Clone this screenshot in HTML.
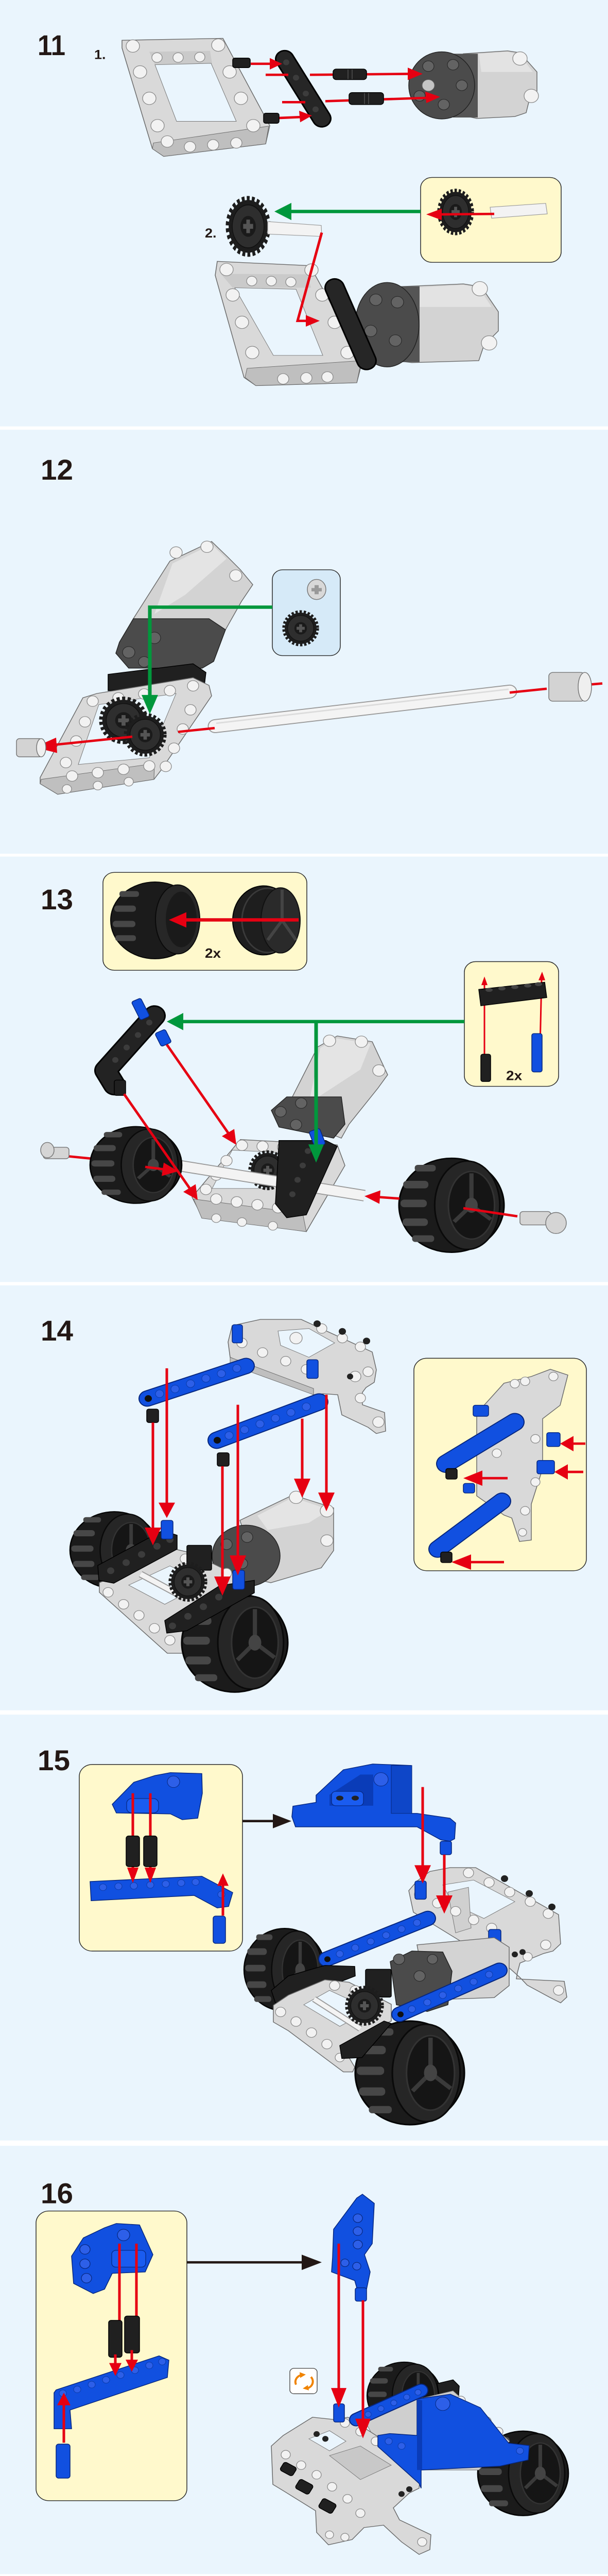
<!DOCTYPE html>
<html><head><meta charset="utf-8"><style>
html,body{margin:0;padding:0;background:#eaf5fd;width:100%;height:100%;overflow:hidden;}
svg{display:block;width:100vw;height:100vh;}
text{font-family:"Liberation Sans",sans-serif;font-weight:bold;fill:#231815;}
.gy{fill:#d9d9d9;stroke:#6a6a6a;stroke-width:1.5}
.gyd{fill:#bfbfbf;stroke:#6a6a6a;stroke-width:1}
.hl{fill:#f2f2f2;stroke:#8a8a8a;stroke-width:1.3}
.bk{fill:#202020;stroke:#000;stroke-width:1.5}
.bl{fill:#1150e0;stroke:#06267c;stroke-width:1.5}
.rd{stroke:#e60012;stroke-width:5;fill:none}
.rdt{stroke:#e60012;stroke-width:3;fill:none}
.rf{fill:#e60012}
.gn{stroke:#00973c;stroke-width:7;fill:none}
.gf{fill:#00973c}
.yb{fill:#fff9cc;stroke:#2b2b2b;stroke-width:1.5}
.mt{fill:#d3d3d3;stroke:#6a6a6a;stroke-width:1.5}
.mtd{fill:#4b4b4b;stroke:#222;stroke-width:1.5}
.bg{fill:#eaf5fd}
.ax{fill:#f3f3f3;stroke:#9a9a9a;stroke-width:1.2}
</style></head><body><svg viewBox="0 0 1181 5371" preserveAspectRatio="none" xmlns="http://www.w3.org/2000/svg">
<defs>
 <g id="wheel">
  <ellipse rx="100" ry="100" fill="#1b1b1b" stroke="#050505" stroke-width="3"/>
  <g fill="#474747">
   <rect x="-70" y="-86" width="40" height="14" rx="6"/>
   <rect x="-92" y="-52" width="48" height="16" rx="7"/>
   <rect x="-97" y="-12" width="50" height="16" rx="7"/>
   <rect x="-93" y="28" width="48" height="16" rx="7"/>
   <rect x="-75" y="64" width="42" height="14" rx="6"/>
  </g>
  <ellipse cx="30" rx="62" ry="94" fill="#262626" stroke="#0a0a0a" stroke-width="3"/>
  <ellipse cx="38" rx="44" ry="72" fill="#151515" stroke="#333" stroke-width="3"/>
  <g stroke="#3a3a3a" stroke-width="8"><line x1="38" y1="0" x2="38" y2="-68"/><line x1="38" y1="0" x2="75" y2="30"/><line x1="38" y1="0" x2="5" y2="35"/></g>
  <ellipse cx="38" rx="12" ry="16" fill="#444"/>
 </g>
 <g id="gear">
  <ellipse rx="86" ry="86" fill="#1d1d1d" stroke="#1d1d1d" stroke-width="26" stroke-dasharray="12 9"/>
  <ellipse rx="70" ry="70" fill="#2e2e2e" stroke="#111" stroke-width="3"/>
  <ellipse rx="34" ry="34" fill="#1a1a1a"/>
  <path d="M-8,-22 h16 v14 h14 v16 h-14 v14 h-16 v-14 h-14 v-16 h14z" fill="#555"/>
 </g>
</defs>
<rect width="1181" height="5371" fill="#fff"/>
<g class="bg">
 <rect x="0" y="0" width="1181" height="889"/>
 <rect x="0" y="896" width="1181" height="884"/>
 <rect x="0" y="1786" width="1181" height="887"/>
 <rect x="0" y="2680" width="1181" height="886"/>
 <rect x="0" y="3575" width="1181" height="888"/>
 <rect x="0" y="4474" width="1181" height="893"/>
</g>

<!-- ================= STEP 11 ================= -->
<text x="73" y="115" font-size="60" textLength="54" lengthAdjust="spacingAndGlyphs">11</text>
<text x="183" y="123" font-size="27">1.</text>
<polygon class="gy" points="237,84 433,80 524,262 516,300 318,326 296,310 237,100"/>
<polygon class="gyd" points="298,298 522,263 516,300 318,326 296,310"/>
<polygon fill="#cacaca" points="290,108 408,106 412,133 301,135"/>
<polygon class="bg" stroke="#777" stroke-width="1" points="301,135 410,132 459,253 343,253"/>
<g class="hl">
 <circle cx="258" cy="96" r="13"/><circle cx="272" cy="150" r="13"/><circle cx="290" cy="205" r="13"/><circle cx="306" cy="262" r="13"/>
 <circle cx="424" cy="94" r="13"/><circle cx="446" cy="150" r="13"/><circle cx="468" cy="205" r="13"/><circle cx="492" cy="262" r="13"/>
 <circle cx="305" cy="120" r="10"/><circle cx="346" cy="120" r="10"/><circle cx="388" cy="119" r="10"/>
 <circle cx="369" cy="306" r="11"/><circle cx="414" cy="302" r="11"/><circle cx="459" cy="298" r="11"/>
 <circle cx="325" cy="295" r="12"/>
</g>
<line x1="553" y1="123" x2="625" y2="247" stroke="#000" stroke-width="38" stroke-linecap="round"/>
<line x1="553" y1="123" x2="625" y2="247" stroke="#262626" stroke-width="32" stroke-linecap="round"/>
<g fill="#3c3c3c"><circle cx="556" cy="130" r="6"/><circle cx="575" cy="162" r="6"/><circle cx="594" cy="195" r="6"/><circle cx="613" cy="228" r="6"/></g>
<polygon class="mt" points="900,112 986,106 1010,110 1043,150 1043,190 1030,200 1022,235 1000,243 926,247 900,241"/>
<polygon fill="#e3e3e3" points="930,112 986,108 1010,115 1035,150 935,150"/>
<rect x="880" y="112" width="48" height="133" fill="#555"/>
<ellipse class="mtd" cx="858" cy="178" rx="64" ry="70"/>
<g fill="#636363" stroke="#2a2a2a" stroke-width="1.2">
 <circle cx="832" cy="138" r="11"/><circle cx="880" cy="135" r="11"/><circle cx="815" cy="200" r="11"/><circle cx="862" cy="218" r="11"/><circle cx="897" cy="178" r="11"/>
</g>
<circle cx="832" cy="178" r="12" fill="#c4c4c4" stroke="#666"/>
<g class="hl"><circle cx="1010" cy="122" r="14"/><circle cx="1032" cy="200" r="14"/></g>
<g class="rd">
 <line x1="487" y1="133" x2="526" y2="133"/>
 <line x1="516" y1="156" x2="560" y2="156"/>
 <line x1="602" y1="156" x2="795" y2="154"/>
 <line x1="548" y1="213" x2="593" y2="213"/>
 <line x1="632" y1="211" x2="830" y2="204"/>
 <line x1="542" y1="246" x2="584" y2="244"/>
</g>
<rect class="bk" x="452" y="121" width="34" height="20" rx="4"/>
<rect class="bk" x="512" y="236" width="30" height="21" rx="4"/>
<rect class="bk" x="647" y="144" width="65" height="22" rx="6"/>
<rect class="bk" x="678" y="193" width="67" height="25" rx="6"/>
<g stroke="#444" stroke-width="2"><line x1="676" y1="145" x2="676" y2="165"/><line x1="684" y1="145" x2="684" y2="165"/><line x1="708" y1="194" x2="708" y2="217"/><line x1="716" y1="194" x2="716" y2="217"/></g>
<g class="rf">
 <polygon points="524,121 548,133 524,145"/>
 <polygon points="792,141 821,154 792,167"/>
 <polygon points="826,191 855,202 828,215"/>
 <polygon points="581,231 606,241 583,255"/>
</g>
<polygon class="gy" points="422,545 602,554 704,752 693,798 497,804 474,787 418,574"/>
<polygon class="gyd" points="480,768 702,752 693,798 497,804 476,787"/>
<polygon fill="#cacaca" points="429,571 597,572 604,600 452,600"/>
<polygon class="bg" stroke="#777" stroke-width="1" points="456,600 575,603 627,741 531,741"/>
<g class="hl">
 <circle cx="440" cy="562" r="13"/><circle cx="452" cy="615" r="13"/><circle cx="470" cy="672" r="13"/><circle cx="490" cy="735" r="13"/>
 <circle cx="605" cy="563" r="13"/><circle cx="626" cy="615" r="13"/><circle cx="650" cy="672" r="13"/><circle cx="675" cy="735" r="13"/>
 <circle cx="489" cy="586" r="10"/><circle cx="527" cy="586" r="10"/><circle cx="565" cy="588" r="10"/>
 <circle cx="550" cy="790" r="11"/><circle cx="595" cy="788" r="11"/><circle cx="636" cy="786" r="11"/>
</g>
<polygon class="mt" points="768,598 900,592 935,598 968,650 968,690 940,720 930,752 800,756 768,752"/>
<polygon fill="#e3e3e3" points="800,600 900,594 930,600 955,640 800,640"/>
<rect x="760" y="597" width="55" height="158" fill="#555"/>
<ellipse class="mtd" cx="752" cy="677" rx="62" ry="88"/>
<g fill="#636363" stroke="#2a2a2a" stroke-width="1.2"><circle cx="730" cy="625" r="12"/><circle cx="772" cy="630" r="12"/><circle cx="720" cy="690" r="12"/><circle cx="768" cy="710" r="12"/></g>
<g class="hl"><circle cx="932" cy="602" r="15"/><circle cx="950" cy="715" r="15"/></g>
<line x1="650" y1="600" x2="712" y2="752" stroke="#000" stroke-width="40" stroke-linecap="round"/>
<line x1="650" y1="600" x2="712" y2="752" stroke="#262626" stroke-width="34" stroke-linecap="round"/>
<use href="#gear" transform="translate(482,472) scale(0.44,0.64)"/>
<polygon class="ax" points="520,462 624,470 625,493 520,488"/>
<text x="398" y="495" font-size="27">2.</text>
<polyline class="rd" points="625,485 578,669 596,669"/>
<polygon class="rf" points="594,657 621,669 594,681"/>
<rect class="yb" x="817" y="370" width="273" height="177" rx="22"/>
<polygon class="ax" points="952,432 1060,424 1063,446 955,455"/>
<use href="#gear" transform="translate(885,442) scale(0.36,0.49)"/>
<line class="rd" x1="960" y1="446" x2="856" y2="447"/>
<polygon class="rf" points="858,435 828,447 858,459"/>
<line class="gn" x1="817" y1="441" x2="562" y2="441" stroke-width="8"/>
<polygon class="gf" points="566,423 533,441 566,459"/>

<!-- ================= STEP 12 ================= -->
<text x="79" y="1000" font-size="60" textLength="63" lengthAdjust="spacingAndGlyphs">12</text>
<polygon class="mt" points="330,1170 411,1129 442,1161 467,1188 491,1219 469,1254 438,1313 406,1313 259,1290"/>
<polygon fill="#e4e4e4" points="335,1175 411,1135 440,1165 360,1240 300,1280"/>
<g class="hl"><circle cx="342" cy="1152" r="12"/><circle cx="402" cy="1140" r="12"/><circle cx="458" cy="1200" r="12"/></g>
<polygon class="mtd" points="259,1290 406,1290 438,1313 415,1379 393,1393 250,1393 225,1362 232,1339"/>
<g fill="#636363" stroke="#2a2a2a" stroke-width="1.2"><circle cx="250" cy="1360" r="12"/><circle cx="300" cy="1330" r="12"/><circle cx="280" cy="1380" r="11"/></g>
<polygon class="bk" points="210,1406 375,1384 400,1402 397,1429 210,1440"/>
<polygon class="gy" points="78,1621 161,1455 188,1446 375,1413 406,1429 411,1451 312,1607 299,1625 112,1656 78,1634"/>
<polygon class="gyd" points="80,1625 300,1592 299,1625 112,1656 78,1634"/>
<polygon class="bg" stroke="#777" stroke-width="1" points="192,1469 342,1446 290,1580 152,1594"/>
<g class="hl">
 <circle cx="180" cy="1462" r="11"/><circle cx="230" cy="1455" r="11"/><circle cx="280" cy="1447" r="11"/><circle cx="330" cy="1440" r="11"/><circle cx="375" cy="1430" r="11"/>
 <circle cx="165" cy="1505" r="11"/><circle cx="148" cy="1545" r="11"/><circle cx="128" cy="1590" r="11"/>
 <circle cx="370" cy="1480" r="11"/><circle cx="355" cy="1520" r="11"/><circle cx="338" cy="1560" r="11"/><circle cx="322" cy="1598" r="11"/>
 <circle cx="140" cy="1618" r="11"/><circle cx="190" cy="1611" r="11"/><circle cx="240" cy="1604" r="11"/><circle cx="290" cy="1597" r="11"/>
 <circle cx="130" cy="1645" r="9"/><circle cx="190" cy="1638" r="9"/><circle cx="250" cy="1630" r="9"/>
</g>
<use href="#gear" transform="translate(240,1502) scale(0.48,0.5)"/>
<use href="#gear" transform="translate(282,1532) scale(0.42,0.46)"/>
<line x1="418" y1="1514" x2="990" y2="1442" stroke="#9a9a9a" stroke-width="29" stroke-linecap="round"/>
<line x1="418" y1="1514" x2="990" y2="1442" stroke="#f4f4f4" stroke-width="25" stroke-linecap="round"/>
<line x1="420" y1="1508" x2="988" y2="1437" stroke="#dcdcdc" stroke-width="3"/>
<g class="rd">
 <line x1="990" y1="1444" x2="1062" y2="1436"/>
 <line x1="1148" y1="1427" x2="1170" y2="1425"/>
 <line x1="417" y1="1518" x2="346" y2="1526"/>
 <line x1="257" y1="1536" x2="105" y2="1553"/>
</g>
<polygon class="rf" points="109,1538 67,1558 111,1570"/>
<rect x="1066" y="1402" width="70" height="60" rx="8" fill="#d3d3d3" stroke="#777" stroke-width="1.5"/>
<ellipse cx="1136" cy="1432" rx="13" ry="30" fill="#efefef" stroke="#777" stroke-width="1.5"/>
<rect x="32" y="1540" width="50" height="38" rx="6" fill="#d3d3d3" stroke="#777" stroke-width="1.5"/>
<ellipse cx="80" cy="1559" rx="9" ry="19" fill="#efefef" stroke="#777" stroke-width="1.5"/>
<rect x="529" y="1188" width="132" height="179" rx="20" fill="#d6eaf8" stroke="#2b2b2b" stroke-width="1.5"/>
<ellipse cx="615" cy="1229" rx="18" ry="21" fill="#d8d8d8" stroke="#777" stroke-width="1.5"/>
<path d="M611,1220 h8 v6 h6 v7 h-6 v6 h-8 v-6 h-6 v-7 h6z" fill="#999"/>
<use href="#gear" transform="translate(584,1310) scale(0.36,0.38)"/>
<polyline class="gn" points="529,1266 291,1266 291,1455" stroke-width="6"/>
<polygon class="gf" points="275,1449 291,1489 307,1449"/>

<!-- ================= STEP 13 ================= -->
<text x="79" y="1896" font-size="60" textLength="63" lengthAdjust="spacingAndGlyphs">13</text>
<rect class="yb" x="200" y="1819" width="396" height="204" rx="22"/>
<ellipse cx="301" cy="1919" rx="86" ry="80" fill="#1b1b1b" stroke="#050505" stroke-width="2"/>
<g fill="#474747">
 <rect x="232" y="1858" width="38" height="12" rx="5"/><rect x="222" y="1888" width="42" height="13" rx="6"/>
 <rect x="219" y="1920" width="44" height="13" rx="6"/><rect x="224" y="1950" width="40" height="12" rx="5"/>
</g>
<ellipse cx="345" cy="1917" rx="43" ry="72" fill="#272727" stroke="#0a0a0a" stroke-width="2"/>
<ellipse cx="352" cy="1917" rx="30" ry="58" fill="#1a1a1a"/>
<ellipse cx="512" cy="1919" rx="60" ry="72" fill="#1e1e1e" stroke="#000" stroke-width="2"/>
<ellipse cx="520" cy="1919" rx="50" ry="67" fill="none" stroke="#3a3a3a" stroke-width="3"/>
<ellipse cx="545" cy="1919" rx="38" ry="68" fill="#2a2a2a" stroke="#111" stroke-width="2"/>
<g stroke="#444" stroke-width="6"><line x1="548" y1="1919" x2="548" y2="1855"/><line x1="548" y1="1919" x2="575" y2="1960"/><line x1="548" y1="1919" x2="520" y2="1960"/></g>
<line x1="580" y1="1918" x2="360" y2="1918" stroke="#e60012" stroke-width="7"/>
<polygon class="rf" points="362,1902 328,1918 362,1934"/>
<text x="398" y="1997" font-size="28">2x</text>
<rect class="yb" x="902" y="2005" width="183" height="260" rx="22"/>
<line class="rdt" x1="941" y1="2252" x2="941" y2="2052"/>
<line class="rdt" x1="1048" y1="2229" x2="1052" y2="2042"/>
<polygon class="bk" points="930,2063 1058,2048 1062,2080 934,2097"/>
<g fill="#444"><ellipse cx="950" cy="2064" rx="7" ry="4"/><ellipse cx="975" cy="2061" rx="7" ry="4"/><ellipse cx="1000" cy="2058" rx="7" ry="4"/><ellipse cx="1025" cy="2055" rx="7" ry="4"/><ellipse cx="1046" cy="2052" rx="7" ry="4"/></g>
<polygon class="rf" points="935,2054 941,2036 947,2054"/>
<polygon class="rf" points="1046,2044 1053,2026 1059,2044"/>
<rect class="bk" x="934" y="2198" width="19" height="57" rx="4"/>
<rect class="bl" x="1033" y="2155" width="20" height="80" rx="4"/>
<text x="983" y="2252" font-size="28">2x</text>
<polygon class="mt" points="617,2183 655,2160 723,2172 753,2241 734,2269 678,2344 663,2373 595,2344 557,2310"/>
<polygon fill="#e4e4e4" points="622,2185 655,2165 720,2176 700,2230 600,2300"/>
<g class="hl"><circle cx="640" cy="2170" r="12"/><circle cx="702" cy="2172" r="12"/><circle cx="736" cy="2232" r="12"/></g>
<polygon class="mtd" points="527,2315 557,2287 663,2287 670,2344 648,2373 542,2350"/>
<g fill="#636363" stroke="#2a2a2a" stroke-width="1.2"><circle cx="545" cy="2318" r="11"/><circle cx="585" cy="2300" r="11"/><circle cx="575" cy="2345" r="11"/></g>
<polygon class="gy" points="373,2496 467,2376 655,2387 670,2430 595,2568 392,2536"/>
<polygon class="gyd" points="376,2500 588,2530 595,2568 392,2540"/>
<polygon class="bg" stroke="#777" stroke-width="1" points="451,2398 560,2404 527,2478 412,2478"/>
<g class="hl">
 <circle cx="470" cy="2388" r="11"/><circle cx="510" cy="2390" r="11"/><circle cx="550" cy="2392" r="11"/>
 <circle cx="440" cy="2420" r="11"/><circle cx="420" cy="2450" r="11"/><circle cx="400" cy="2480" r="11"/>
 <circle cx="420" cy="2500" r="11"/><circle cx="460" cy="2506" r="11"/><circle cx="500" cy="2512" r="11"/><circle cx="540" cy="2518" r="11"/>
 <circle cx="420" cy="2540" r="9"/><circle cx="470" cy="2548" r="9"/><circle cx="530" cy="2556" r="9"/>
</g>
<use href="#gear" transform="translate(520,2440) scale(0.38,0.42)"/>
<line x1="346" y1="2430" x2="708" y2="2493" stroke="#9a9a9a" stroke-width="24"/>
<line x1="346" y1="2430" x2="708" y2="2493" stroke="#f3f3f3" stroke-width="20"/>
<polygon class="bk" points="542,2378 633,2378 655,2390 595,2533 557,2539 535,2510"/>
<g fill="#3c3c3c"><circle cx="598" cy="2400" r="6"/><circle cx="588" cy="2430" r="6"/><circle cx="578" cy="2460" r="6"/><circle cx="568" cy="2490" r="6"/></g>
<rect class="bl" x="605" y="2355" width="22" height="35" rx="4" transform="rotate(-20 616 2372)"/>
<line class="rd" x1="124" y1="2410" x2="180" y2="2416"/>
<use href="#wheel" transform="translate(264,2429) scale(0.89,0.80)"/>
<use href="#wheel" transform="translate(877,2513) scale(1.02,0.98)"/>
<line class="rd" x1="282" y1="2433" x2="318" y2="2438"/>
<polygon class="rf" points="314,2452 346,2442 318,2424"/>
<line class="rd" x1="776" y1="2499" x2="736" y2="2496"/>
<polygon class="rf" points="739,2482 708,2494 737,2510"/>
<line class="rd" x1="900" y1="2519" x2="1005" y2="2536"/>
<g fill="#d5d5d5" stroke="#777" stroke-width="1.5">
 <rect x="84" y="2392" width="50" height="24" rx="6"/><ellipse cx="92" cy="2398" rx="13" ry="16"/>
 <rect x="1010" y="2526" width="60" height="28" rx="6"/><ellipse cx="1080" cy="2550" rx="20" ry="22"/>
</g>
<polyline points="300,2118 205,2232 222,2262" fill="none" stroke="#000" stroke-width="44" stroke-linecap="round" stroke-linejoin="round"/>
<polyline points="300,2118 205,2232 222,2262" fill="none" stroke="#232323" stroke-width="38" stroke-linecap="round" stroke-linejoin="round"/>
<g fill="#3c3c3c"><circle cx="290" cy="2132" r="6"/><circle cx="268" cy="2158" r="6"/><circle cx="246" cy="2184" r="6"/><circle cx="224" cy="2210" r="6"/></g>
<rect class="bl" x="263" y="2083" width="20" height="42" rx="4" transform="rotate(-25 273 2104)"/>
<rect class="bl" x="306" y="2149" width="22" height="30" rx="4" transform="rotate(-25 317 2164)"/>
<rect class="bk" x="222" y="2252" width="22" height="32" rx="4"/>
<line class="rd" x1="241" y1="2281" x2="370" y2="2480"/>
<polygon class="rf" points="356,2485 384,2502 380,2469"/>
<line class="rd" x1="324" y1="2178" x2="445" y2="2365"/>
<polygon class="rf" points="431,2369 459,2387 455,2354"/>
<line class="gn" x1="902" y1="2130" x2="352" y2="2130"/>
<polygon class="gf" points="356,2112 324,2130 356,2148"/>
<line class="gn" x1="614" y1="2130" x2="614" y2="2390" stroke-width="6"/>
<polygon class="gf" points="599,2386 614,2424 629,2386"/>

<!-- ================= STEP 14 ================= -->
<text x="79" y="2795" font-size="60" textLength="63" lengthAdjust="spacingAndGlyphs">14</text>
<polygon class="gy" points="443,2798 451,2764 506,2751 585,2751 723,2819 731,2856 727,2882 711,2893 704,2903 704,2929 747,2945 749,2984 731,2989 715,2976 664,2950 656,2908 628,2906 609,2908 447,2830"/>
<polygon class="gyd" points="447,2830 609,2895 609,2908 447,2845"/>
<polygon class="bg" stroke="#777" stroke-width="1" points="540,2775 600,2770 650,2800 600,2830 545,2805"/>
<g class="hl">
 <circle cx="470" cy="2800" r="10"/><circle cx="510" cy="2820" r="10"/><circle cx="555" cy="2838" r="10"/><circle cx="595" cy="2855" r="10"/>
 <circle cx="575" cy="2790" r="12"/><circle cx="625" cy="2770" r="10"/><circle cx="665" cy="2790" r="10"/><circle cx="700" cy="2808" r="10"/>
 <circle cx="690" cy="2870" r="11"/><circle cx="715" cy="2860" r="10"/><circle cx="700" cy="2915" r="10"/><circle cx="735" cy="2965" r="11"/>
</g>
<g fill="#222"><circle cx="616" cy="2760" r="7"/><circle cx="665" cy="2776" r="7"/><circle cx="712" cy="2796" r="7"/><circle cx="680" cy="2870" r="6"/></g>
<rect class="bl" x="451" y="2762" width="20" height="38" rx="4"/>
<rect class="bl" x="596" y="2835" width="22" height="39" rx="4"/>
<line x1="286" y1="2916" x2="478" y2="2848" stroke="#06267c" stroke-width="34" stroke-linecap="round"/>
<line x1="286" y1="2916" x2="478" y2="2848" stroke="#1150e0" stroke-width="30" stroke-linecap="round"/>
<g fill="#2d5fe8" stroke="#0a3aa8" stroke-width="1"><circle cx="310" cy="2906" r="8"/><circle cx="340" cy="2896" r="8"/><circle cx="370" cy="2885" r="8"/><circle cx="400" cy="2874" r="8"/><circle cx="430" cy="2864" r="8"/><circle cx="460" cy="2853" r="8"/></g>
<line x1="421" y1="3003" x2="620" y2="2923" stroke="#06267c" stroke-width="36" stroke-linecap="round"/>
<line x1="421" y1="3003" x2="620" y2="2923" stroke="#1150e0" stroke-width="32" stroke-linecap="round"/>
<g fill="#2d5fe8" stroke="#0a3aa8" stroke-width="1"><circle cx="445" cy="2993" r="8"/><circle cx="475" cy="2981" r="8"/><circle cx="505" cy="2969" r="8"/><circle cx="535" cy="2957" r="8"/><circle cx="565" cy="2945" r="8"/><circle cx="595" cy="2933" r="8"/></g>
<circle cx="288" cy="2916" r="7" fill="#111"/><circle cx="422" cy="3003" r="7" fill="#111"/>
<rect class="bk" x="285" y="2938" width="23" height="28" rx="4"/>
<rect class="bk" x="422" y="3029" width="23" height="28" rx="4"/>
<polygon class="mt" points="466,3170 569,3117 648,3144 648,3233 624,3269 526,3300 506,3295"/>
<polygon fill="#e4e4e4" points="500,3160 569,3122 640,3148 600,3175 520,3190"/>
<g class="hl"><circle cx="575" cy="3122" r="13"/><circle cx="635" cy="3150" r="13"/><circle cx="635" cy="3212" r="12"/></g>
<ellipse class="mtd" cx="478" cy="3244" rx="66" ry="64"/>
<g fill="#636363" stroke="#2a2a2a" stroke-width="1.2"><circle cx="440" cy="3220" r="11"/><circle cx="480" cy="3205" r="11"/><circle cx="470" cy="3260" r="11"/></g>
<use href="#wheel" transform="translate(222,3232) scale(0.86,0.80)"/>
<polygon class="gy" points="193,3300 340,3230 372,3238 470,3290 380,3350 360,3447 325,3447 193,3320"/>
<polygon class="bg" stroke="#777" stroke-width="1" points="250,3305 330,3265 400,3300 320,3345"/>
<g class="hl"><circle cx="210" cy="3320" r="10"/><circle cx="240" cy="3345" r="10"/><circle cx="270" cy="3368" r="10"/><circle cx="300" cy="3395" r="10"/><circle cx="330" cy="3420" r="10"/><circle cx="360" cy="3250" r="10"/><circle cx="400" cy="3262" r="10"/><circle cx="440" cy="3280" r="10"/></g>
<rect class="bk" x="363" y="3222" width="48" height="52" rx="3"/>
<line x1="273" y1="3282" x2="356" y2="3330" stroke="#9a9a9a" stroke-width="14"/>
<line x1="273" y1="3282" x2="356" y2="3330" stroke="#f3f3f3" stroke-width="10"/>
<use href="#gear" transform="translate(365,3298) scale(0.38,0.42)"/>
<polygon class="bk" points="190,3264 316,3191 344,3201 344,3230 221,3301 192,3295"/>
<g fill="#3c3c3c"><circle cx="215" cy="3275" r="7"/><circle cx="245" cy="3258" r="7"/><circle cx="275" cy="3241" r="7"/><circle cx="305" cy="3224" r="7"/><circle cx="330" cy="3210" r="7"/></g>
<use href="#wheel" transform="translate(456,3425) scale(1.03,1.03)"/>
<polygon class="bk" points="320,3379 427,3306 494,3295 494,3321 363,3400 324,3405"/>
<g fill="#3c3c3c"><circle cx="335" cy="3390" r="7"/><circle cx="365" cy="3370" r="7"/><circle cx="395" cy="3350" r="7"/><circle cx="425" cy="3330" r="7"/></g>
<rect class="bl" x="313" y="3170" width="23" height="39" rx="4"/>
<rect class="bl" x="452" y="3274" width="23" height="40" rx="4"/>
<g class="rd">
 <line x1="297" y1="2966" x2="297" y2="3188"/>
 <line x1="324" y1="2853" x2="324" y2="3136"/>
 <line x1="432" y1="3057" x2="432" y2="3290"/>
 <line x1="462" y1="2929" x2="462" y2="3246"/>
 <line x1="587" y1="2958" x2="587" y2="3086"/>
 <line x1="634" y1="2908" x2="634" y2="3115"/>
</g>
<g class="rf">
 <polygon points="281,3185 297,3222 313,3185"/>
 <polygon points="308,3133 324,3165 340,3133"/>
 <polygon points="416,3287 432,3327 448,3287"/>
 <polygon points="446,3243 462,3285 478,3243"/>
 <polygon points="571,3083 587,3123 603,3083"/>
 <polygon points="618,3112 634,3151 650,3112"/>
</g>
<rect class="yb" x="804" y="2832" width="335" height="443" rx="25"/>
<polygon class="gy" points="979,2884 1032,2870 1069,2855 1103,2867 1088,2930 1054,2958 1054,3062 1032,3136 1032,3211 1009,3214 994,3165 979,3159 926,3119 926,2947"/>
<g class="hl"><circle cx="1000" cy="2885" r="9"/><circle cx="1020" cy="2880" r="9"/><circle cx="1075" cy="2870" r="9"/><circle cx="960" cy="2990" r="9"/><circle cx="965" cy="3030" r="9"/><circle cx="1040" cy="3000" r="9"/><circle cx="1040" cy="3090" r="9"/><circle cx="1020" cy="3150" r="9"/><circle cx="1015" cy="3195" r="8"/></g>
<rect class="bl" x="919" y="2930" width="30" height="23" rx="4"/>
<rect class="bl" x="1062" y="2987" width="26" height="29" rx="4"/>
<rect class="bl" x="1043" y="3045" width="34" height="28" rx="4"/>
<rect class="bl" x="900" y="3093" width="22" height="20" rx="4"/>
<line x1="866" y1="3052" x2="1000" y2="2965" stroke="#06267c" stroke-width="38" stroke-linecap="round"/>
<line x1="866" y1="3052" x2="1000" y2="2965" stroke="#1150e0" stroke-width="34" stroke-linecap="round"/>
<line x1="850" y1="3230" x2="975" y2="3130" stroke="#06267c" stroke-width="36" stroke-linecap="round"/>
<line x1="850" y1="3230" x2="975" y2="3130" stroke="#1150e0" stroke-width="32" stroke-linecap="round"/>
<rect class="bk" x="866" y="3062" width="22" height="22" rx="4"/>
<rect class="bk" x="856" y="3236" width="22" height="22" rx="4"/>
<g class="rd">
 <line x1="1137" y1="3010" x2="1112" y2="3010"/>
 <line x1="1133" y1="3069" x2="1101" y2="3069"/>
 <line x1="986" y1="3082" x2="935" y2="3082"/>
 <line x1="979" y1="3257" x2="913" y2="3257"/>
</g>
<g class="rf">
 <polygon points="1114,2994 1088,3010 1114,3026"/>
 <polygon points="1103,3053 1077,3069 1103,3085"/>
 <polygon points="937,3066 900,3082 937,3098"/>
 <polygon points="915,3241 877,3257 915,3273"/>
</g>

<!-- ================= STEP 15 ================= -->
<text x="73" y="3691" font-size="60" textLength="63" lengthAdjust="spacingAndGlyphs">15</text>
<rect class="yb" x="154" y="3679" width="317" height="389" rx="25"/>
<polygon class="bl" points="218,3762 260,3716 301,3702 331,3696 392,3698 393,3739 384,3791 354,3794 331,3782 226,3780"/>
<rect x="246" y="3750" width="62" height="30" rx="10" fill="#1a5cf0" stroke="#06267c" stroke-width="1.2"/>
<circle cx="337" cy="3715" r="12" fill="#2d5fe8" stroke="#06267c"/>
<g class="rd"><line x1="258" y1="3739" x2="258" y2="3896"/><line x1="292" y1="3739" x2="292" y2="3896"/></g>
<rect class="bk" x="245" y="3828" width="26" height="64" rx="5"/>
<rect class="bk" x="279" y="3828" width="26" height="64" rx="5"/>
<polygon class="bl" points="175,3923 392,3912 452,3946 444,3975 422,3978 377,3952 177,3963"/>
<g fill="#2d5fe8" stroke="#0a3aa8" stroke-width="1"><circle cx="200" cy="3935" r="7"/><circle cx="230" cy="3933" r="7"/><circle cx="260" cy="3932" r="7"/><circle cx="292" cy="3930" r="7"/><circle cx="322" cy="3928" r="7"/><circle cx="352" cy="3926" r="7"/><circle cx="380" cy="3924" r="7"/><circle cx="430" cy="3950" r="7"/></g>
<g class="rf"><polygon points="247,3894 258,3926 269,3894"/><polygon points="281,3894 292,3926 303,3894"/></g>
<rect class="bl" x="414" y="3995" width="24" height="57" rx="5"/>
<line class="rd" x1="433" y1="3994" x2="433" y2="3930"/>
<polygon class="rf" points="422,3932 433,3906 444,3932"/>
<line x1="471" y1="3797" x2="535" y2="3797" stroke="#231815" stroke-width="5"/>
<polygon points="530,3782 566,3797 530,3812" fill="#231815"/>
<polygon class="bl" points="569,3766 614,3758 614,3743 667,3690 724,3678 798,3681 799,3781 810,3781 874,3791 885,3801 883,3834 874,3839 856,3836 810,3809 574,3809 567,3788"/>
<polygon fill="#0a3cb8" points="640,3742 700,3700 725,3700 725,3765 640,3765"/>
<rect x="644" y="3735" width="62" height="30" rx="8" fill="#1a5cf0" stroke="#06267c" stroke-width="1.2"/>
<g fill="#222"><ellipse cx="660" cy="3749" rx="7" ry="5"/><ellipse cx="690" cy="3749" rx="7" ry="5"/></g>
<circle cx="740" cy="3710" r="14" fill="#2d5fe8" stroke="#06267c"/>
<rect x="760" y="3681" width="40" height="100" fill="#0e46c8" stroke="#06267c"/>
<rect class="bl" x="855" y="3839" width="22" height="28" rx="4"/>
<use href="#wheel" transform="translate(553,4107) scale(0.79,0.86)"/>
<polygon class="gy" points="794,3942 810,3922 835,3902 874,3894 924,3894 1085,3992 1089,4053 1074,4068 1056,4073 1010,4093 1005,4113 1003,4126 1096,4131 1101,4164 1089,4176 1067,4164 1024,4139 1010,4123 989,4103 978,4098 964,4093 803,3987"/>
<polygon class="bg" stroke="#777" stroke-width="1" points="860,3930 920,3920 1000,3965 940,4000 880,3970"/>
<polygon fill="#d0d0d0" stroke="#777" points="870,3945 910,3935 915,4020 885,4030"/>
<g class="hl"><circle cx="815" cy="3950" r="10"/><circle cx="850" cy="3968" r="10"/><circle cx="885" cy="3985" r="10"/><circle cx="920" cy="4003" r="10"/><circle cx="955" cy="4020" r="10"/><circle cx="910" cy="3905" r="10"/><circle cx="950" cy="3925" r="10"/><circle cx="990" cy="3945" r="10"/><circle cx="1030" cy="3965" r="10"/><circle cx="1065" cy="3990" r="10"/><circle cx="1060" cy="4055" r="10"/><circle cx="1085" cy="4150" r="10"/><circle cx="1025" cy="4080" r="9"/></g>
<g fill="#222"><circle cx="980" cy="3917" r="7"/><circle cx="1028" cy="3948" r="7"/><circle cx="1072" cy="3976" r="7"/><circle cx="1000" cy="4075" r="6"/><circle cx="1015" cy="4070" r="6"/></g>
<rect class="bl" x="806" y="3922" width="22" height="38" rx="4"/>
<rect class="bl" x="949" y="4023" width="24" height="40" rx="4"/>
<polygon class="mt" points="810,4055 960,4040 989,4060 989,4140 960,4165 830,4170"/>
<polygon class="mtd" points="758,4090 800,4068 860,4070 878,4110 870,4180 830,4194 770,4180"/>
<g fill="#636363" stroke="#2a2a2a" stroke-width="1.2"><circle cx="775" cy="4085" r="11"/><circle cx="815" cy="4120" r="11"/><circle cx="840" cy="4085" r="10"/></g>
<line x1="634" y1="4085" x2="831" y2="4000" stroke="#06267c" stroke-width="32" stroke-linecap="round"/>
<line x1="634" y1="4085" x2="831" y2="4000" stroke="#1150e0" stroke-width="28" stroke-linecap="round"/>
<g fill="#2d5fe8" stroke="#0a3aa8" stroke-width="1"><circle cx="660" cy="4074" r="7"/><circle cx="690" cy="4061" r="7"/><circle cx="720" cy="4048" r="7"/><circle cx="750" cy="4035" r="7"/><circle cx="780" cy="4022" r="7"/><circle cx="810" cy="4009" r="7"/></g>
<circle cx="636" cy="4085" r="6" fill="#111"/>
<polygon class="bk" points="527,4150 560,4120 631,4098 689,4100 690,4120 560,4174 535,4176"/>
<rect class="bk" x="710" y="4106" width="50" height="58" rx="3"/>
<polygon class="gy" points="531,4181 560,4160 631,4128 678,4133 760,4179 760,4214 696,4244 664,4265 689,4310 685,4320 667,4320 560,4234 531,4216"/>
<polygon class="bg" stroke="#777" stroke-width="1" points="590,4180 640,4150 720,4190 660,4225"/>
<g class="hl"><circle cx="545" cy="4195" r="10"/><circle cx="575" cy="4215" r="10"/><circle cx="605" cy="4238" r="10"/><circle cx="635" cy="4262" r="10"/><circle cx="660" cy="4290" r="9"/><circle cx="650" cy="4140" r="10"/><circle cx="690" cy="4150" r="10"/><circle cx="730" cy="4175" r="10"/></g>
<line x1="610" y1="4168" x2="700" y2="4230" stroke="#9a9a9a" stroke-width="13"/>
<line x1="610" y1="4168" x2="700" y2="4230" stroke="#f3f3f3" stroke-width="9"/>
<use href="#gear" transform="translate(708,4182) scale(0.38,0.42)"/>
<use href="#wheel" transform="translate(796,4322) scale(1.06,1.08)"/>
<polygon class="bk" points="660,4265 746,4214 760,4219 703,4290 664,4292"/>
<line x1="776" y1="4200" x2="970" y2="4108" stroke="#06267c" stroke-width="32" stroke-linecap="round"/>
<line x1="776" y1="4200" x2="970" y2="4108" stroke="#1150e0" stroke-width="28" stroke-linecap="round"/>
<g fill="#2d5fe8" stroke="#0a3aa8" stroke-width="1"><circle cx="800" cy="4189" r="7"/><circle cx="830" cy="4175" r="7"/><circle cx="860" cy="4160" r="7"/><circle cx="890" cy="4146" r="7"/><circle cx="920" cy="4132" r="7"/><circle cx="950" cy="4117" r="7"/></g>
<circle cx="778" cy="4200" r="6" fill="#111"/>
<g class="rd"><line x1="821" y1="3726" x2="821" y2="3892"/><line x1="863" y1="3867" x2="863" y2="3955"/></g>
<g class="rf"><polygon points="805,3889 821,3927 837,3889"/><polygon points="847,3952 863,3990 879,3952"/></g>

<!-- ================= STEP 16 ================= -->
<text x="79" y="4594" font-size="60" textLength="63" lengthAdjust="spacingAndGlyphs">16</text>
<rect class="yb" x="70" y="4610" width="293" height="604" rx="25"/>
<polygon class="bl" points="139,4704 162,4666 203,4645 226,4636 271,4639 297,4701 282,4737 218,4740 203,4773 181,4782 143,4761"/>
<g fill="#2d5fe8" stroke="#06267c" stroke-width="1.2"><circle cx="165" cy="4690" r="10"/><circle cx="165" cy="4720" r="10"/><circle cx="168" cy="4750" r="10"/><circle cx="240" cy="4660" r="12"/></g>
<rect x="217" y="4692" width="66" height="35" rx="8" fill="#1a5cf0" stroke="#06267c" stroke-width="1.2"/>
<g class="rd"><line x1="232" y1="4678" x2="232" y2="4840"/><line x1="265" y1="4678" x2="265" y2="4830"/></g>
<rect class="bk" x="211" y="4838" width="26" height="77" rx="5"/>
<rect class="bk" x="242" y="4829" width="29" height="77" rx="5"/>
<polygon class="bl" points="109,4983 309,4912 328,4921 325,4957 136,5025 139,5064 105,5064 105,4989"/>
<g fill="#2d5fe8" stroke="#0a3aa8" stroke-width="1"><circle cx="122" cy="4990" r="7"/><circle cx="150" cy="4982" r="7"/><circle cx="178" cy="4972" r="7"/><circle cx="206" cy="4962" r="7"/><circle cx="234" cy="4952" r="7"/><circle cx="262" cy="4942" r="7"/><circle cx="290" cy="4932" r="7"/><circle cx="315" cy="4924" r="7"/></g>
<g class="rd"><line x1="224" y1="4909" x2="224" y2="4930"/><line x1="256" y1="4900" x2="256" y2="4922"/></g>
<g class="rf"><polygon points="212,4927 224,4954 236,4927"/><polygon points="244,4920 256,4945 268,4920"/></g>
<rect class="bl" x="109" y="5096" width="27" height="71" rx="5"/>
<line class="rd" x1="124" y1="5093" x2="124" y2="5013"/>
<polygon class="rf" points="111,5015 124,4989 137,5015"/>
<line x1="363" y1="4717" x2="592" y2="4717" stroke="#231815" stroke-width="5"/>
<polygon points="586,4701 625,4717 586,4733" fill="#231815"/>
<polygon class="bl" points="648,4648 693,4583 704,4575 727,4594 723,4678 708,4701 719,4737 712,4773 700,4796 689,4755 644,4737 646,4707"/>
<g fill="#2d5fe8" stroke="#06267c" stroke-width="1.2"><circle cx="695" cy="4625" r="9"/><circle cx="695" cy="4652" r="9"/><circle cx="695" cy="4680" r="9"/><circle cx="670" cy="4718" r="8"/><circle cx="693" cy="4725" r="8"/></g>
<rect class="bl" x="690" y="4770" width="22" height="28" rx="4"/>
<rect x="563" y="4938" width="53" height="53" rx="8" fill="#fff" stroke="#555" stroke-width="1.5"/>
<path d="M575,4972 A16,15 0 0 1 585,4952" fill="none" stroke="#f08300" stroke-width="4"/>
<path d="M604,4956 A16,15 0 0 1 596,4980" fill="none" stroke="#f08300" stroke-width="4"/>
<polygon points="582,4946 594,4951 583,4958" fill="#f08300"/>
<polygon points="600,4984 588,4980 598,4973" fill="#f08300"/>
<use href="#wheel" transform="translate(785,4995) scale(0.72,0.70)"/>
<polygon class="bk" points="849,4970 880,4962 892,4975 890,5007 855,5005"/>
<use href="#wheel" transform="translate(1016,5157) scale(0.88,0.88)"/>
<polygon fill="#cfcfcf" stroke="#777" stroke-width="1" points="700,5030 880,4985 990,5090 930,5150 760,5150"/>
<g class="hl"><circle cx="895" cy="5005" r="9"/><circle cx="920" cy="5025" r="9"/><circle cx="945" cy="5048" r="9"/><circle cx="968" cy="5070" r="9"/></g>
<polygon class="gy" points="527,5100 550,5078 607,5040 651,5045 676,5040 772,5107 818,5147 814,5188 795,5198 764,5229 776,5254 837,5285 835,5316 814,5326 780,5300 745,5265 707,5270 684,5295 638,5306 615,5280 613,5235 550,5193 530,5180"/>
<polygon fill="#c8c8c8" stroke="#777" stroke-width="1" points="640,5120 700,5100 760,5140 700,5170"/>
<polygon class="bg" stroke="#777" stroke-width="1" points="600,5085 640,5068 672,5090 640,5110"/>
<g class="hl">
 <circle cx="555" cy="5118" r="9"/><circle cx="585" cy="5140" r="9"/><circle cx="615" cy="5160" r="9"/><circle cx="645" cy="5185" r="9"/><circle cx="675" cy="5210" r="9"/>
 <circle cx="670" cy="5052" r="9"/><circle cx="700" cy="5070" r="9"/><circle cx="730" cy="5090" r="9"/><circle cx="760" cy="5112" r="9"/>
 <circle cx="700" cy="5240" r="9"/><circle cx="670" cy="5290" r="8"/><circle cx="640" cy="5285" r="8"/><circle cx="820" cy="5300" r="9"/>
</g>
<g fill="#222"><circle cx="615" cy="5075" r="6"/><circle cx="632" cy="5085" r="6"/><circle cx="780" cy="5200" r="6"/><circle cx="795" cy="5190" r="6"/></g>
<g class="bk"><rect x="550" y="5134" width="20" height="28" rx="5" transform="rotate(-60 560 5148)"/><rect x="580" y="5170" width="22" height="30" rx="5" transform="rotate(-60 591 5185)"/><rect x="625" y="5210" width="22" height="30" rx="5" transform="rotate(-60 636 5225)"/></g>
<line x1="692" y1="5045" x2="818" y2="4984" stroke="#06267c" stroke-width="28" stroke-linecap="round"/>
<line x1="692" y1="5045" x2="818" y2="4984" stroke="#1150e0" stroke-width="24" stroke-linecap="round"/>
<g fill="#2d5fe8" stroke="#0a3aa8" stroke-width="1"><circle cx="715" cy="5034" r="6"/><circle cx="740" cy="5022" r="6"/><circle cx="765" cy="5010" r="6"/><circle cx="790" cy="4998" r="6"/><circle cx="812" cy="4988" r="6"/></g>
<polygon class="bl" points="810,5002 875,4992 933,5020 988,5094 1028,5099 1026,5129 971,5142 818,5150 818,5188 814,5178 734,5101 734,5078 757,5074 810,5078"/>
<polygon fill="#0a3cb8" points="810,5002 820,5005 820,5150 810,5150"/>
<circle cx="860" cy="5012" r="14" fill="#2d5fe8" stroke="#06267c"/>
<g fill="#2d5fe8" stroke="#0a3aa8" stroke-width="1"><circle cx="755" cy="5090" r="7"/><circle cx="780" cy="5100" r="7"/><circle cx="1010" cy="5110" r="7"/></g>
<rect class="bl" x="648" y="5012" width="21" height="38" rx="4"/>
<g class="rd"><line x1="658" y1="4678" x2="658" y2="4982"/><line x1="705" y1="4796" x2="705" y2="5046"/></g>
<g class="rf"><polygon points="643,4979 658,5020 673,4979"/><polygon points="690,5043 705,5084 720,5043"/></g>
</svg></body></html>
